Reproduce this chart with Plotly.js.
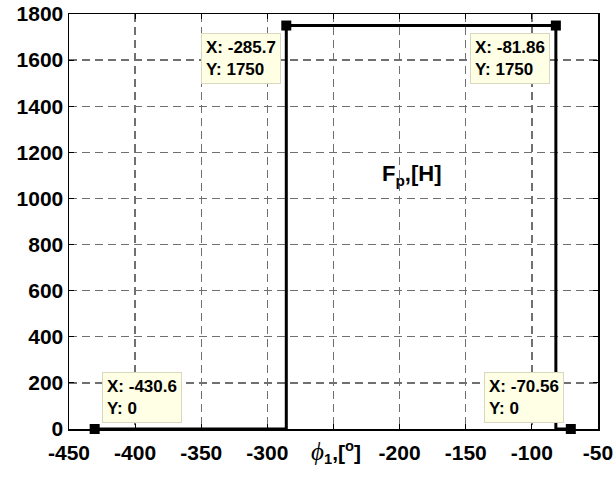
<!DOCTYPE html>
<html><head><meta charset="utf-8">
<script src="https://cdn.plot.ly/plotly-3.0.1.min.js"></script>
<style>body{margin:0;padding:0;background:#fff}#chart{width:616px;height:477px}</style>
</head><body><div id="chart"></div>
<script>
// path of the force curve
const lineX = [-430.6, -285.7, -285.7, -81.86, -81.86, -70.56];
const lineY = [0, 0, 1750, 1750, 0, 0];
// data tip points
const tipX = [-430.6, -285.7, -81.86, -70.56];
const tipY = [0, 1750, 1750, 0];
// axis ticks
const xTickVals = [-450, -400, -350, -300, -250, -200, -150, -100, -50];
const xTickText = ['-450', '-400', '-350', '-300', '', '-200', '-150', '-100', '-50'];
const yTickVals = [0, 200, 400, 600, 800, 1000, 1200, 1400, 1600, 1800];

const font = 'Liberation Sans, Arial, sans-serif';

const traces = [
  {x: lineX, y: lineY, mode: 'lines', line: {color: '#000', width: 3}, cliponaxis: false, hoverinfo: 'skip'},
  {x: tipX, y: tipY, mode: 'markers', marker: {symbol: 'square', size: 10, color: '#000'}, cliponaxis: false}
];

// data tip box placement (box corner in data units)
const tipBoxX = [-425, -350.2, -146.8, -136.2];
const tipBoxY = [26, 1716, 1716, 26];
const tipAnn = tipX.map((x, i) => ({
  x: tipBoxX[i], y: tipBoxY[i], xref: 'x', yref: 'y',
  text: 'X: ' + x + '<br>Y: ' + tipY[i],
  showarrow: false, align: 'left',
  xanchor: 'left',
  yanchor: tipY[i] === 0 ? 'bottom' : 'top',
  bgcolor: '#ffffe6', bordercolor: '#d8d8c0', borderwidth: 1, borderpad: 4,
  font: {family: font, size: 17, color: '#000', weight: 'bold'}
}));

const annotations = tipAnn.concat([
  {x: -191, y: 1100, xref: 'x', yref: 'y', showarrow: false,
   text: 'F<sub>p</sub>,[H]', font: {family: font, size: 22, color: '#000', weight: 'bold'}},
  {x: 0.505, y: -0.056, xref: 'paper', yref: 'paper', showarrow: false, xanchor: 'center', yanchor: 'middle',
   text: '<span style="font-family:Liberation Serif;font-style:italic;font-weight:normal;font-size:25px">ϕ</span><sub>1</sub>,[<sup>o</sup>]',
   font: {family: font, size: 21, color: '#000', weight: 'bold'}}
]);

const axisCommon = {
  showline: true, mirror: 'ticks', linecolor: '#000', linewidth: 1.5,
  ticks: 'inside', ticklen: 5, tickwidth: 1, tickcolor: '#000',
  showgrid: true, gridcolor: '#707070', griddash: '8px,5px', gridwidth: 1.3,
  zeroline: false,
  tickfont: {family: font, size: 21, color: '#000', weight: 'bold'}
};

const layout = {
  width: 616, height: 477,
  margin: {l: 69, r: 18, t: 14, b: 48},
  paper_bgcolor: '#fff', plot_bgcolor: '#fff',
  showlegend: false,
  xaxis: Object.assign({}, axisCommon, {range: [-450, -50], tickmode: 'array', tickvals: xTickVals, ticktext: xTickText, ticklabelstandoff: 4}),
  yaxis: Object.assign({}, axisCommon, {range: [0, 1800], tickmode: 'array', tickvals: yTickVals}),
  annotations: annotations
};

Plotly.newPlot('chart', traces, layout, {displayModeBar: false, staticPlot: true});
</script></body></html>
